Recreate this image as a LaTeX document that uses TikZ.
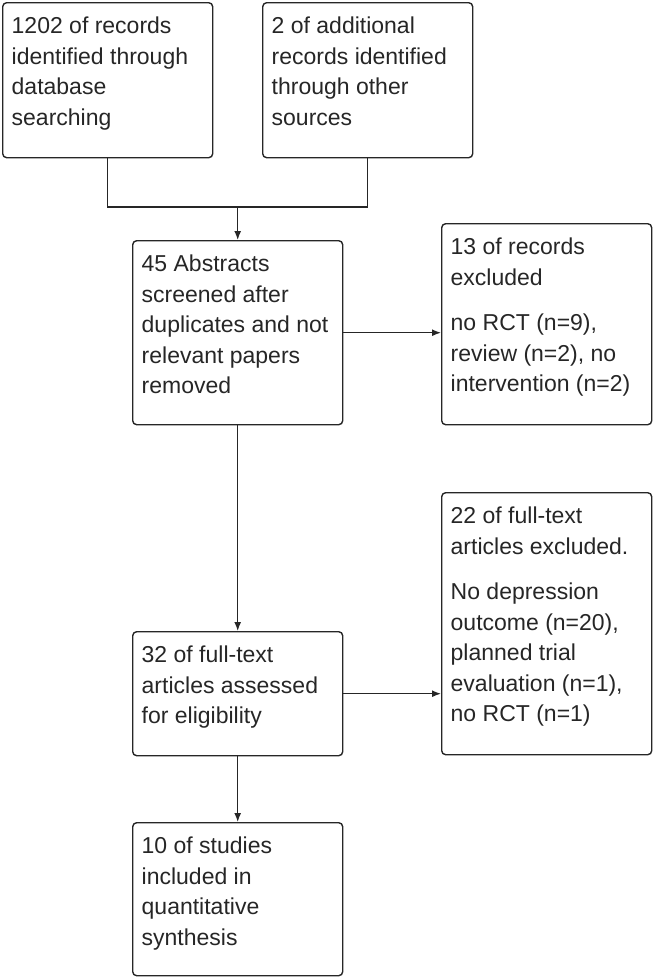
\documentclass[tikz,border=0pt]{standalone}
\usepackage{fontspec}
\setmainfont{Liberation Sans}
\usetikzlibrary{calc,positioning,arrows.meta}

\newcommand{\boxtext}[2]{\parbox[t][#1][t]{192bp}{\vspace*{9.6bp}\strut #2}}

\begin{document}
\begin{tikzpicture}[x=1bp, y=-1bp, black!85, line width=1.4bp, >={Latex[length=9bp,width=7bp]},
	box/.style={draw, rounded corners=4bp, inner xsep=9bp, inner ysep=0pt, anchor=north west, font=\fontsize{23bp}{30.5bp}\selectfont}]
\useasboundingbox (0,0) rectangle (655,980);
\node[box] at (2,2)     (db)       {\boxtext{155bp}{1202 of records\\identified through\\database\\searching}};
\node[box] at (262,2)   (other)    {\boxtext{155bp}{2 of additional\\records identified\\through other\\sources}};
\node[box] at (132,240) (screen)   {\boxtext{184bp}{45 Abstracts\\screened after\\duplicates and not\\relevant papers\\removed}};
\node[box] at (441,223) (excl1)    {\boxtext{201bp}{13 of records\\excluded\par\vspace{15bp}no RCT (n=9),\\review (n=2), no\\intervention (n=2)}};
\node[box] at (441,492) (excl2)    {\boxtext{262bp}{22 of full-text\\articles excluded.\par\vspace{15bp}No depression\\outcome (n=20),\\planned trial\\evaluation (n=1),\\no RCT (n=1)}};
\node[box] at (132,631) (fulltext) {\boxtext{124bp}{32 of full-text\\articles assessed\\for eligibility}};
\node[box] at (132,822) (included) {\boxtext{153bp}{10 of studies\\included in\\quantitative\\synthesis}};
\coordinate (join) at ($(screen.north)+(0,-33)$);

\draw (db.south) |- (join) -| (other.south);
\draw[->] (join) -- (screen.north);
\draw[->] (screen.east) -- (screen.east-|excl1.west);
\draw[->] (screen.south) -- (fulltext.north);
\draw[->] (fulltext.east) -- (fulltext.east-|excl2.west);
\draw[->] (fulltext.south) -- (included.north);
\end{tikzpicture}
\end{document}
